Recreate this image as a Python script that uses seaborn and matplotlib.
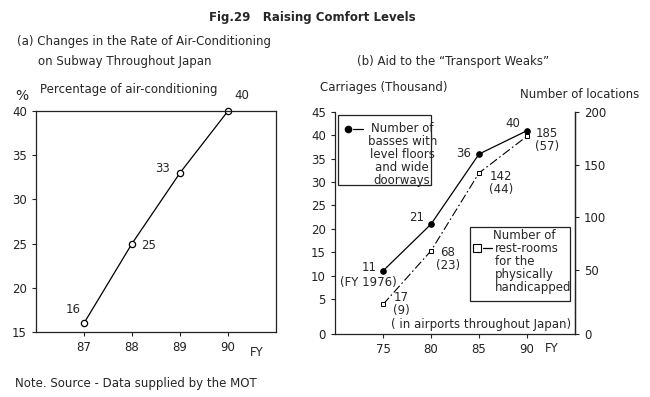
import pandas as pd
import matplotlib.pyplot as plt
import seaborn as sns
from matplotlib.patches import Rectangle
from matplotlib.lines import Line2D

# Datos del panel (a): tasa de aire acondicionado en el metro
ac_years = [87, 88, 89, 90]
ac_rate = [16, 25, 33, 40]

# Datos del panel (b): autobuses de piso bajo y baños para discapacitados
aid_years = [75, 80, 85, 90]
bus_values = [11, 21, 36, 41]          # posicion
bus_labels = ['11', '21', '36', '40']
rest_values = [17, 68, 142, 177]       # posicion
rest_labels = ['17\n(9)', '68\n(23)', '142\n(44)', '185\n(57)']

left_ticks = [5, 10, 15, 20, 25, 30, 35, 40, 45]
right_ticks = [50, 100, 150, 200]

sns.set_style('ticks')
plt.rcParams['font.family'] = ['DejaVu Sans']
plt.rcParams['font.size'] = 8
plt.rcParams['axes.linewidth'] = 0.9
plt.rcParams['xtick.major.size'] = 3
plt.rcParams['ytick.major.size'] = 3

fig = plt.figure(figsize=(6.5, 3.97), dpi=100)
W, H = 650, 397


def fx(px):
    return px / W


def fy(py):
    return 1 - py / H


def off(dx, dy):
    # desplazamiento en pixeles -> puntos
    return (dx * 0.72, dy * 0.72)


# ---------------- Panel (a) ----------------
ax1 = fig.add_axes([fx(36), fy(332), fx(276) - fx(36), fy(111) - fy(332)])
df_ac = pd.DataFrame({'FY': ac_years, 'Rate': ac_rate})
sns.lineplot(data=df_ac, x='FY', y='Rate', ax=ax1, color='black', linewidth=0.9,
             marker='o', markersize=4.5, markerfacecolor='white',
             markeredgecolor='black', markeredgewidth=0.9, clip_on=False)
ax1.set_xlim(86, 91)
ax1.set_ylim(15, 40)
ax1.set_xticks(ac_years)
ax1.set_yticks([15, 20, 25, 30, 35, 40])
ax1.set_xlabel('')
ax1.set_ylabel('')
ax1.tick_params(colors='#222222', labelsize=8.5, width=0.8)
for s in ax1.spines.values():
    s.set_color('#222222')

ac_offsets = [(-11, 14), (17, -2), (-17, 4), (14, 15)]
for x, y, (dx, dy) in zip(ac_years, ac_rate, ac_offsets):
    ax1.annotate(str(y), (x, y), xytext=off(dx, dy), textcoords='offset points',
                 ha='center', va='center', fontsize=8.5, annotation_clip=False)

# ---------------- Panel (b) ----------------
ax2 = fig.add_axes([fx(335), fy(334), fx(575) - fx(335), fy(112) - fy(334)])
ax3 = ax2.twinx()
ybottom = -2.5
ax2.set_ylim(ybottom, 45)
ax3.set_ylim(ybottom * 200 / 45, 200)

df_bus = pd.DataFrame({'FY': aid_years, 'Buses': bus_values})
df_rest = pd.DataFrame({'FY': aid_years, 'Rest': rest_values})
sns.lineplot(data=df_bus, x='FY', y='Buses', ax=ax2, color='black', linewidth=0.9,
             marker='o', markersize=4, markeredgecolor='black', clip_on=False)
sns.lineplot(data=df_rest, x='FY', y='Rest', ax=ax3, color='black', linewidth=0.8,
             linestyle=(0, (8, 2.5, 1.5, 2.5)), marker='s', markersize=3.5,
             markerfacecolor='white', markeredgecolor='black',
             markeredgewidth=0.7, clip_on=False)

ax2.set_xlim(70, 95)
ax2.set_xticks(aid_years)
ax2.set_yticks([ybottom] + left_ticks)
ax2.set_yticklabels(['0'] + [str(t) for t in left_ticks])
ax3.set_yticks([ybottom * 200 / 45] + right_ticks)
ax3.set_yticklabels(['0'] + [str(t) for t in right_ticks])
for a in (ax2, ax3):
    a.set_xlabel('')
    a.set_ylabel('')
    a.spines['top'].set_visible(False)
    a.tick_params(colors='#222222', labelsize=8.5, width=0.8)
    for s in a.spines.values():
        s.set_color('#222222')
ax3.spines['left'].set_visible(False)
ax3.spines['bottom'].set_visible(False)

bus_offsets = [(-14, 3), (-14, 7), (-15, 1), (-14, 7)]
for x, y, lab, (dx, dy) in zip(aid_years, bus_values, bus_labels, bus_offsets):
    ax2.annotate(lab, (x, y), xytext=off(dx, dy), textcoords='offset points',
                 ha='center', va='center', fontsize=8.5, annotation_clip=False)
ax2.annotate('(FY 1976)', (aid_years[0], bus_values[0]), xytext=off(-15, -12),
             textcoords='offset points', ha='center', va='center', fontsize=8.5)

rest_offsets = [(18, 0), (17, -8), (22, -10), (20, -4)]
for x, y, lab, (dx, dy) in zip(aid_years, rest_values, rest_labels, rest_offsets):
    ax3.annotate(lab, (x, y), xytext=off(dx, dy), textcoords='offset points',
                 ha='center', va='center', fontsize=8.5, linespacing=1.0,
                 annotation_clip=False)

ax2.text(0.985, 0.045, '( in airports throughout Japan)', transform=ax2.transAxes,
         ha='right', va='center', fontsize=8.5)

# Leyenda de autobuses (recuadro)
ax2.add_patch(Rectangle((0.0125, 0.671), 0.3875, 0.315, transform=ax2.transAxes,
                        fill=False, edgecolor='#222222', linewidth=0.9))
ax2.add_line(Line2D([0.054], [0.923], transform=ax2.transAxes, marker='o',
                    markersize=4.5, color='black', linestyle='none'))
ax2.add_line(Line2D([0.075, 0.115], [0.923, 0.923], transform=ax2.transAxes,
                    color='black', linewidth=0.9))
ax2.text(0.28, 0.955, 'Number of\nbasses with\nlevel floors\nand wide\ndoorways',
         transform=ax2.transAxes, ha='center', va='top', fontsize=8.5,
         linespacing=1.0)

# Leyenda de baños (recuadro)
ax2.add_patch(Rectangle((0.5625, 0.149), 0.4165, 0.333, transform=ax2.transAxes,
                        fill=False, edgecolor='#222222', linewidth=0.9))
ax2.add_line(Line2D([0.592], [0.387], transform=ax2.transAxes, marker='s',
                    markersize=6, markerfacecolor='white', markeredgecolor='black',
                    markeredgewidth=0.8, linestyle='none'))
ax2.add_line(Line2D([0.615, 0.655], [0.387, 0.387], transform=ax2.transAxes,
                    color='black', linewidth=0.9))
ax2.text(0.79, 0.445, 'Number of', transform=ax2.transAxes, ha='center',
         va='center', fontsize=8.5)
ax2.text(0.667, 0.415, 'rest-rooms\nfor the\nphysically\nhandicapped',
         transform=ax2.transAxes, ha='left', va='top', fontsize=8.5,
         linespacing=1.0)

# ---------------- Textos de la figura ----------------
fig.text(fx(312), fy(17), 'Fig.29   Raising Comfort Levels', ha='center',
         va='center', fontsize=8.5, fontweight='bold')
fig.text(fx(17), fy(42), '(a) Changes in the Rate of Air-Conditioning',
         ha='left', va='center', fontsize=8.5)
fig.text(fx(38), fy(61), 'on Subway Throughout Japan', ha='left', va='center',
         fontsize=8.5)
fig.text(fx(15), fy(96), '%', ha='left', va='center', fontsize=10)
fig.text(fx(40), fy(89), 'Percentage of air-conditioning', ha='left',
         va='center', fontsize=8.5)
fig.text(fx(357), fy(62), '(b) Aid to the \u201cTransport Weaks\u201d', ha='left',
         va='center', fontsize=8.5)
fig.text(fx(320), fy(88), 'Carriages (Thousand)', ha='left', va='center',
         fontsize=8.5)
fig.text(fx(520), fy(95), 'Number of locations', ha='left', va='center',
         fontsize=8.5)
fig.text(fx(250), fy(352), 'FY', ha='left', va='center', fontsize=8.5)
fig.text(fx(545), fy(348), 'FY', ha='left', va='center', fontsize=8.5)
fig.text(fx(15), fy(384), 'Note. Source - Data supplied by the MOT', ha='left',
         va='center', fontsize=8.5)

fig.savefig('out.png', dpi=100, facecolor='white')
